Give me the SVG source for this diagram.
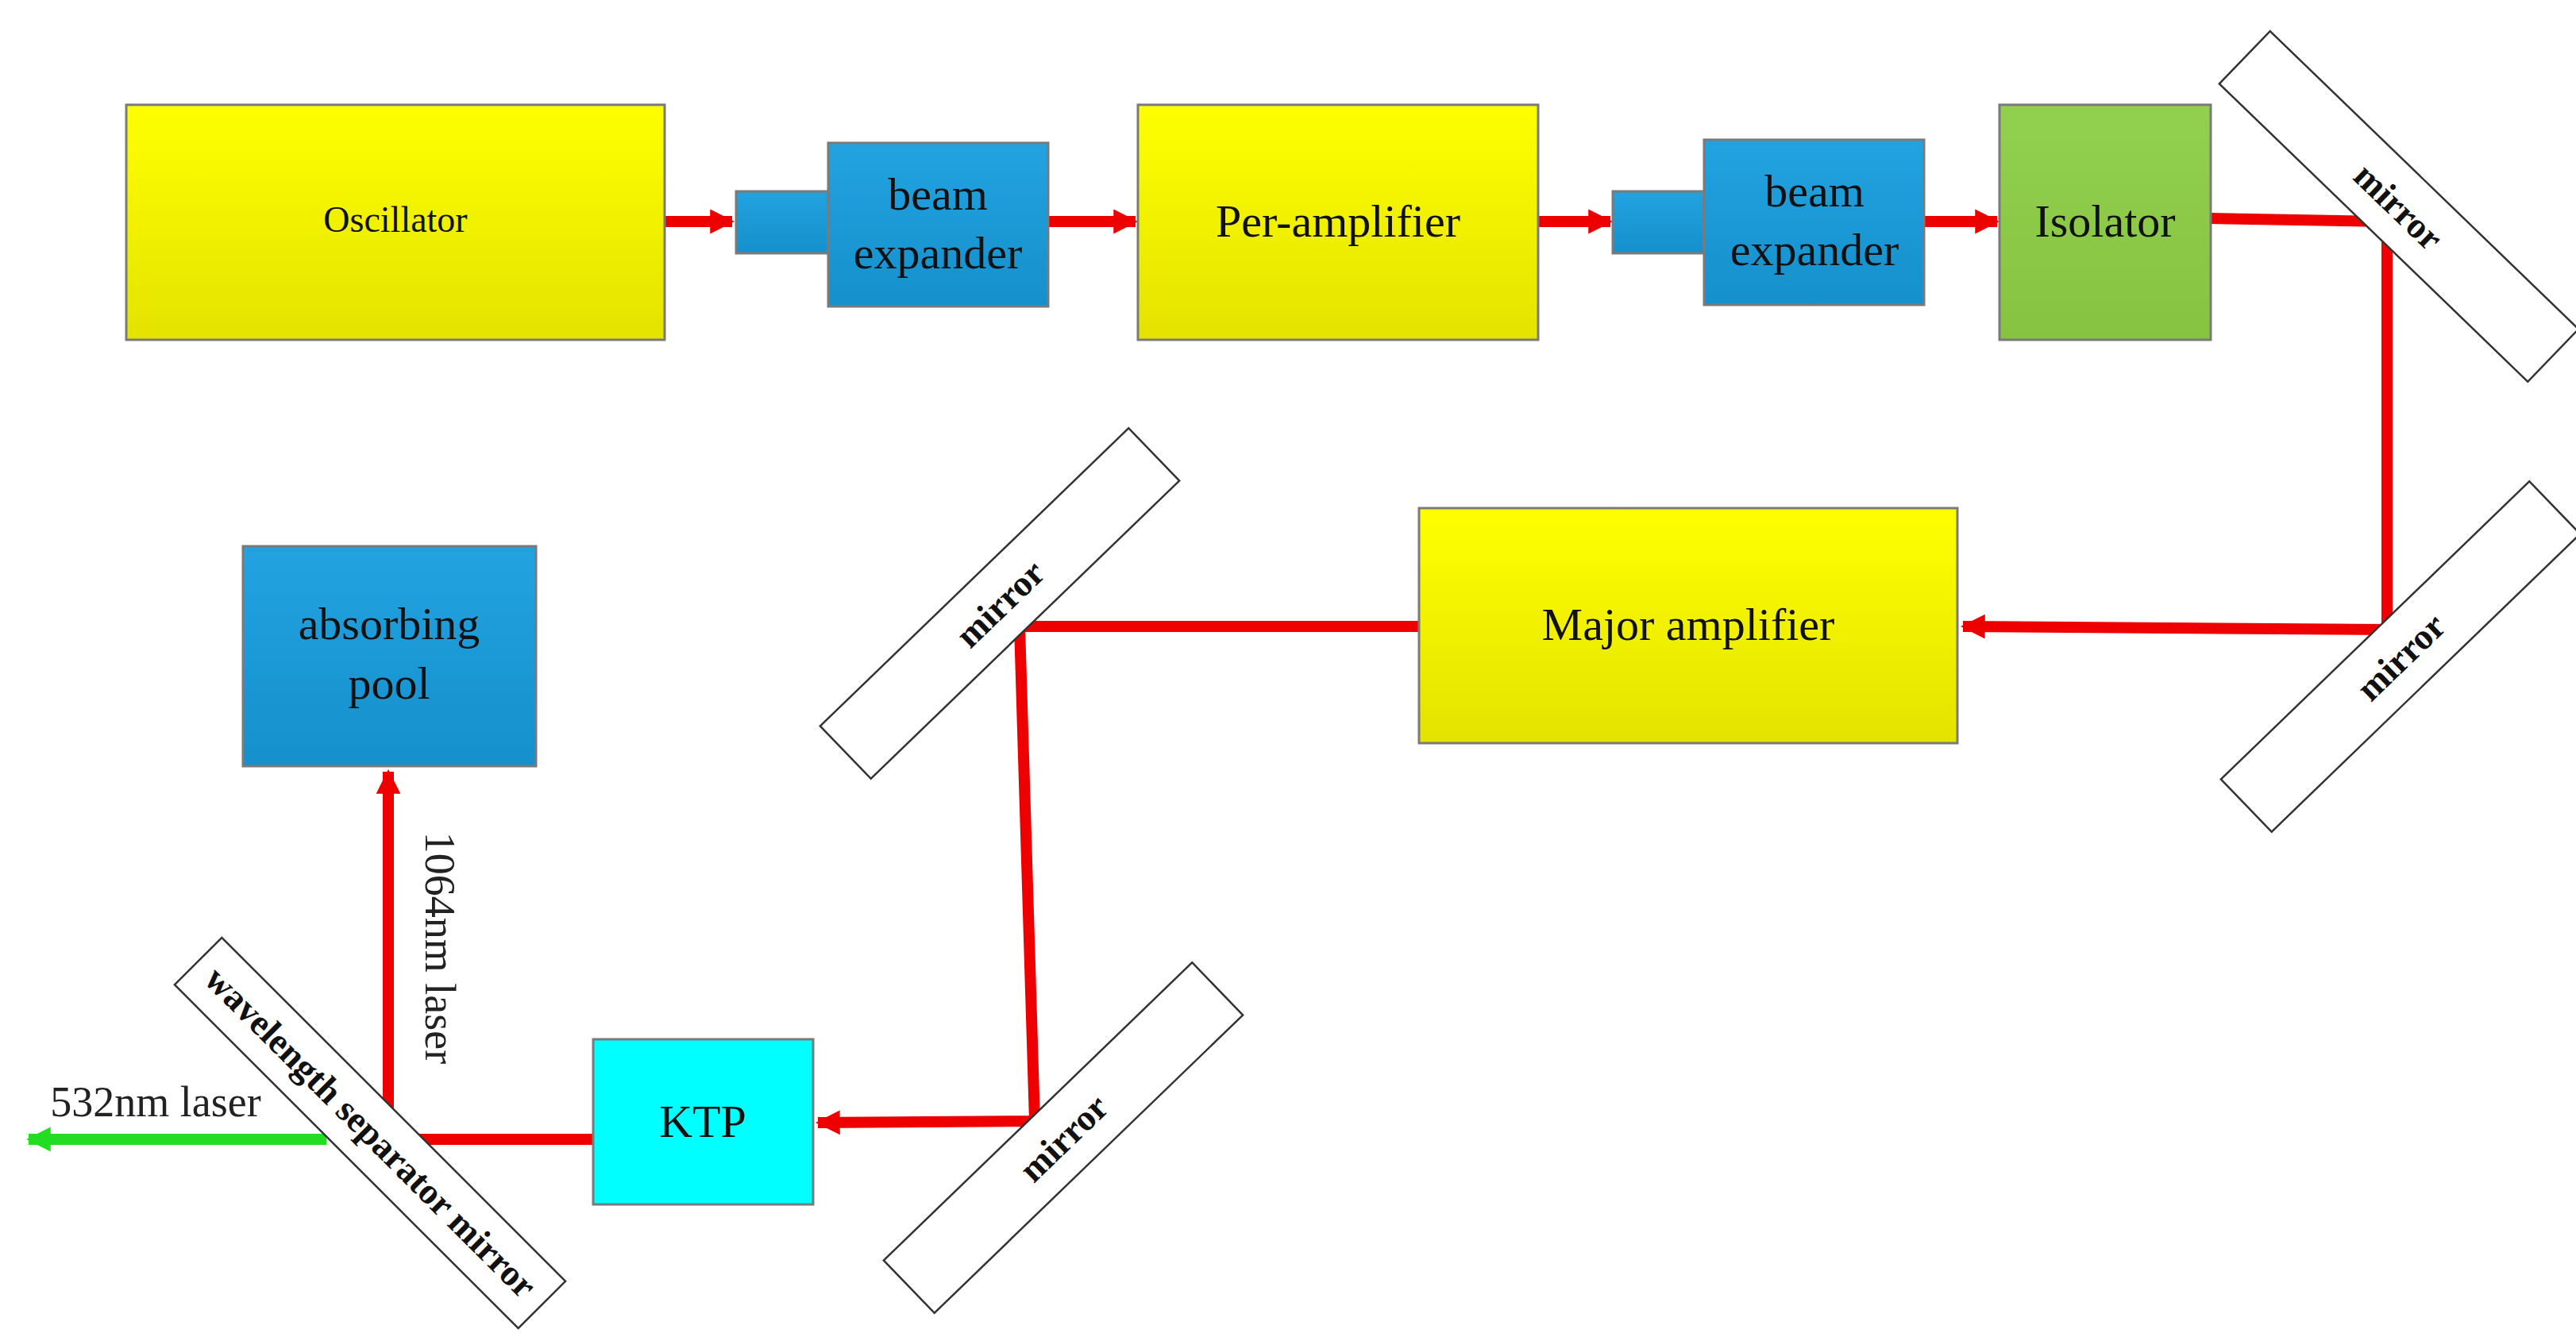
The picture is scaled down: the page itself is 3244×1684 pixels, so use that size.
<svg xmlns="http://www.w3.org/2000/svg" width="3244" height="1684" viewBox="0 0 3244 1684">
<defs>
<linearGradient id="gy" x1="0" y1="0" x2="0" y2="1"><stop offset="0" stop-color="#ffff00"/><stop offset="1" stop-color="#e3e300"/></linearGradient>
<linearGradient id="gb" x1="0" y1="0" x2="0" y2="1"><stop offset="0" stop-color="#22a3e0"/><stop offset="1" stop-color="#1590cc"/></linearGradient>
<linearGradient id="gg" x1="0" y1="0" x2="0" y2="1"><stop offset="0" stop-color="#92d050"/><stop offset="1" stop-color="#86c340"/></linearGradient>
<marker id="ar" viewBox="0 0 10 10" refX="9" refY="5" markerWidth="2.2" markerHeight="2.6" orient="auto" markerUnits="strokeWidth"><path d="M0,0 L10,5 L0,10 Z" fill="#ee0000"/></marker>
<marker id="ag" viewBox="0 0 10 10" refX="9" refY="5" markerWidth="2.2" markerHeight="2.6" orient="auto" markerUnits="strokeWidth"><path d="M0,0 L10,5 L0,10 Z" fill="#22dd22"/></marker>
</defs>
<style>
.box{stroke:#7a7a7a;stroke-width:3}
.t{font-family:"Liberation Serif",serif;fill:#111;text-anchor:middle}
.m{fill:#fff;stroke:#333;stroke-width:2.5}
.mt{font-family:"Liberation Serif",serif;font-weight:bold;font-size:46px;fill:#111;text-anchor:middle}
.beam{fill:none;stroke:#ee0000;stroke-width:14}
</style>
<rect width="3244" height="1684" fill="#fff"/>
<g id="connectors">
<path class="beam" d="M837,279 H922" marker-end="url(#ar)"/>
<path class="beam" d="M1320,279 H1430" marker-end="url(#ar)"/>
<path class="beam" d="M1937,279 H2028" marker-end="url(#ar)"/>
<path class="beam" d="M2423,279 H2515" marker-end="url(#ar)"/>
<path class="beam" d="M2784,275 L3006,279 L3006,793 L2472,789" marker-end="url(#ar)"/>
<path class="beam" d="M1787,789 H1284 L1303,1412 L1030,1414" marker-end="url(#ar)"/>
<path class="beam" d="M747,1435 H489 V972" marker-end="url(#ar)"/>
<path fill="none" stroke="#22dd22" stroke-width="14" d="M411,1435 H36" marker-end="url(#ag)"/>
</g>
<g id="oscillator"><rect class="box" x="159" y="132" width="678" height="296" fill="url(#gy)"/><text class="t" x="498" y="292" font-size="46">Oscillator</text></g>
<g id="beam-expander-1"><rect class="box" x="927" y="241" width="116" height="78" fill="url(#gb)"/><rect class="box" x="1043" y="180" width="277" height="206" fill="url(#gb)"/><text class="t" x="1181" y="264" font-size="58">beam</text><text class="t" x="1181" y="338" font-size="58">expander</text></g>
<g id="per-amplifier"><rect class="box" x="1433" y="132" width="504" height="296" fill="url(#gy)"/><text class="t" x="1685" y="298" font-size="58">Per-amplifier</text></g>
<g id="beam-expander-2"><rect class="box" x="2031" y="241" width="115" height="78" fill="url(#gb)"/><rect class="box" x="2146" y="176" width="277" height="208" fill="url(#gb)"/><text class="t" x="2285" y="260" font-size="58">beam</text><text class="t" x="2285" y="334" font-size="58">expander</text></g>
<g id="isolator"><rect class="box" x="2518" y="132" width="266" height="296" fill="url(#gg)"/><text class="t" x="2651" y="298" font-size="58">Isolator</text></g>
<g id="mirror-1" transform="translate(3021,260) rotate(44)"><rect class="m" x="-270" y="-46" width="540" height="92"/><text class="mt" x="0" y="16">mirror</text></g>
<g id="mirror-2" transform="translate(3023,827) rotate(-44)"><rect class="m" x="-270" y="-46" width="540" height="92"/><text class="mt" x="0" y="16">mirror</text></g>
<g id="major-amplifier"><rect class="box" x="1787" y="640" width="678" height="296" fill="url(#gy)"/><text class="t" x="2126" y="806" font-size="58">Major amplifier</text></g>
<g id="mirror-3" transform="translate(1259,760) rotate(-44)"><rect class="m" x="-270" y="-46" width="540" height="92"/><text class="mt" x="0" y="16">mirror</text></g>
<g id="mirror-4" transform="translate(1339,1433) rotate(-44)"><rect class="m" x="-270" y="-46" width="540" height="92"/><text class="mt" x="0" y="16">mirror</text></g>
<g id="ktp"><rect class="box" x="747" y="1309" width="277" height="208" fill="#00ffff"/><text class="t" x="885" y="1432" font-size="58">KTP</text></g>
<g id="absorbing-pool"><rect class="box" x="306" y="688" width="369" height="277" fill="url(#gb)"/><text class="t" x="490" y="805" font-size="58">absorbing</text><text class="t" x="490" y="880" font-size="58">pool</text></g>
<g id="separator" transform="translate(466,1427) rotate(45)"><rect class="m" x="-306" y="-42" width="612" height="84"/><text class="mt" x="0" y="14" font-size="42">wavelength separator mirror</text></g>
<text class="t" x="536" y="1194" font-size="54" transform="rotate(90 536 1194)" style="fill:#222">1064nm laser</text>
<text class="t" x="196" y="1406" font-size="54" style="fill:#222">532nm laser</text>
</svg>
